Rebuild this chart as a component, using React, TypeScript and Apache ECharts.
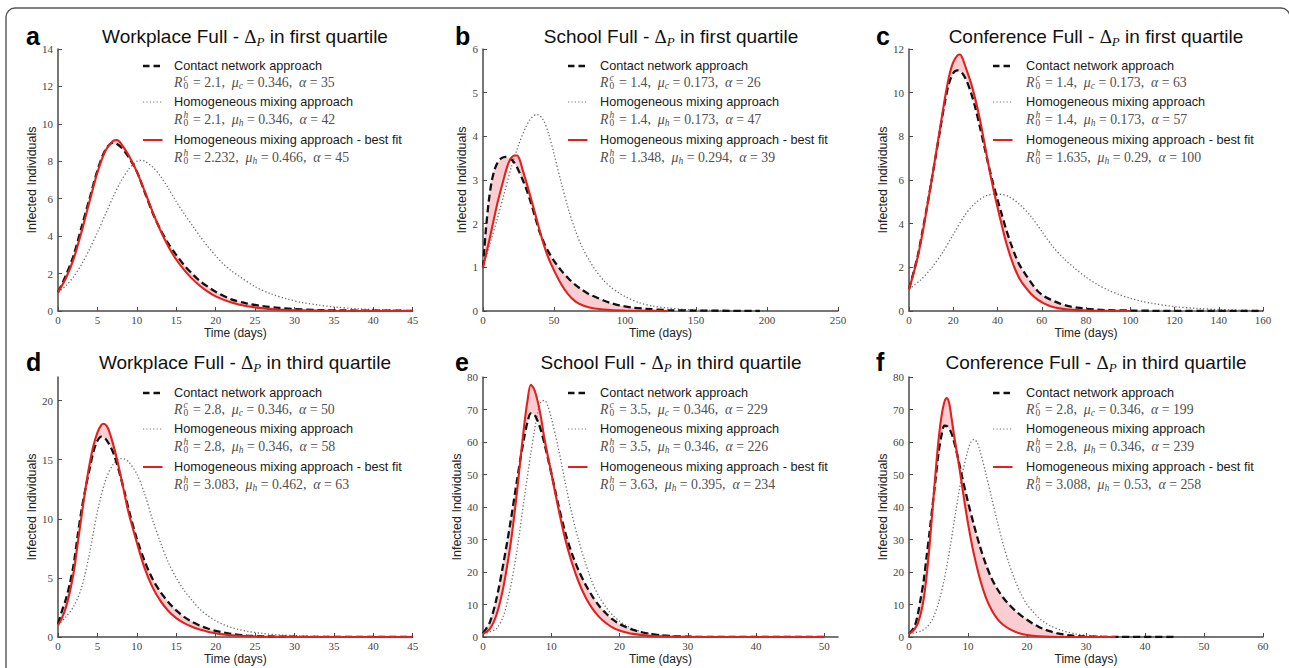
import React, { useEffect, useRef } from "react";
import * as echarts from "echarts";

// ---------- data ----------
const aContact = [[0,1],[1,1.9],[2,3.0],[3,4.5],[4,6.0],[5,7.5],[6,8.6],[7,9.0],[8,8.75],[9,8.2],[10,7.45],[11,6.35],[12,5.25],[13,4.35],[14,3.6],[15,3.0],[16,2.45],[17,2.0],[18,1.6],[19,1.3],[20,1.03],[22,0.62],[24,0.4],[26,0.26],[28,0.17],[30,0.1],[33,0.05],[36,0.03],[40,0.02],[45,0.01]];
const aFit = [[0,1],[1,1.75],[2,2.8],[3,4.25],[4,5.85],[5,7.4],[6,8.55],[7,9.1],[7.5,9.14],[8,8.95],[9,8.3],[10,7.45],[11,6.4],[12,5.3],[13,4.3],[14,3.45],[15,2.75],[16,2.2],[17,1.73],[18,1.35],[19,1.03],[20,0.78],[22,0.45],[24,0.25],[26,0.14],[28,0.07],[30,0.04],[35,0.01],[45,0]];
const aHomog = [[0,1],[1,1.35],[2,1.85],[3,2.5],[4,3.3],[5,4.2],[6,5.15],[7,6.1],[8,6.95],[9,7.6],[10,8.0],[10.5,8.05],[11,8.0],[12,7.7],[13,7.2],[14,6.55],[15,5.85],[16,5.2],[17,4.6],[18,4.0],[19,3.45],[20,2.95],[21,2.5],[22,2.15],[23,1.85],[25,1.3],[27,0.92],[29,0.65],[31,0.45],[33,0.32],[35,0.22],[38,0.12],[41,0.07],[45,0.03]];

const bContact = [[0,1],[1,1.45],[2,1.85],[4,2.5],[6,2.95],[8,3.22],[10,3.38],[13,3.5],[16,3.53],[19,3.5],[22,3.4],[25,3.22],[28,3.0],[31,2.75],[34,2.45],[37,2.12],[40,1.8],[43,1.56],[46,1.36],[50,1.15],[55,0.93],[60,0.75],[65,0.6],[70,0.48],[75,0.38],[80,0.31],[85,0.24],[90,0.18],[96,0.13],[105,0.08],[115,0.05],[130,0.02],[150,0.01],[195,0]];
const bFit = [[0,1],[5,1.7],[10,2.45],[14,2.95],[17,3.3],[19,3.46],[22,3.56],[24,3.56],[26,3.45],[28,3.22],[31,2.9],[34,2.55],[37,2.2],[40,1.83],[43,1.5],[46,1.22],[50,0.93],[55,0.62],[60,0.38],[65,0.22],[70,0.13],[75,0.08],[80,0.05],[90,0.02],[100,0.01],[130,0]];
const bHomog = [[0,1],[5,1.55],[10,2.1],[15,2.7],[20,3.3],[25,3.8],[30,4.2],[34,4.42],[38,4.5],[42,4.4],[46,4.08],[50,3.6],[55,2.95],[60,2.35],[65,1.85],[70,1.45],[75,1.15],[80,0.9],[85,0.7],[90,0.55],[95,0.43],[100,0.33],[110,0.19],[120,0.11],[130,0.07],[140,0.04],[150,0.02],[170,0.01],[200,0]];

const cContact = [[0,1],[2,1.75],[4,2.55],[6,3.6],[8,4.7],[10,5.85],[12,7.05],[14,8.25],[16,9.45],[18,10.4],[20,10.9],[22,11.02],[24,10.9],[26,10.55],[28,10.0],[30,9.3],[32,8.45],[34,7.55],[36,6.65],[38,5.85],[40,5.1],[42,4.4],[44,3.7],[46,3.1],[48,2.55],[50,2.1],[52,1.78],[55,1.33],[58,0.93],[61,0.68],[64,0.52],[68,0.35],[72,0.22],[76,0.15],[80,0.1],[85,0.06],[90,0.04],[100,0.02],[110,0.01],[160,0]];
const cFit = [[0,1],[2,1.7],[4,2.5],[6,3.5],[8,4.65],[10,5.85],[12,7.1],[14,8.35],[16,9.6],[18,10.7],[20,11.4],[22,11.72],[23,11.75],[24,11.62],[26,11.05],[28,10.45],[30,9.7],[32,8.8],[34,7.75],[36,6.65],[38,5.65],[40,4.75],[42,3.9],[44,3.1],[46,2.45],[48,1.9],[50,1.48],[52,1.17],[55,0.8],[58,0.53],[61,0.35],[64,0.22],[68,0.12],[72,0.07],[76,0.04],[80,0.02],[90,0.01],[100,0]];
const cHomog = [[0,1],[5,1.4],[10,1.95],[15,2.65],[20,3.5],[25,4.35],[30,4.95],[35,5.28],[40,5.36],[45,5.25],[50,4.88],[55,4.35],[60,3.65],[65,2.95],[70,2.4],[75,1.95],[80,1.55],[85,1.22],[90,0.96],[95,0.75],[100,0.58],[105,0.45],[110,0.35],[120,0.2],[130,0.12],[140,0.07],[150,0.04],[160,0.02]];

const dContact = [[0,1.1],[0.5,2.2],[1,3.2],[1.5,4.5],[2,6.2],[2.5,8.6],[3,10.8],[3.5,12.6],[4,14.2],[4.5,15.7],[5,16.6],[5.5,16.95],[6,16.8],[6.5,16.3],[7,15.6],[7.5,14.6],[8,13.4],[8.5,12.1],[9,10.7],[10,8.3],[11,6.4],[12,4.9],[13,3.8],[14,2.95],[15,2.25],[16,1.7],[17,1.28],[18,0.96],[19,0.72],[20,0.52],[21,0.37],[22,0.26],[24,0.12],[26,0.06],[28,0.03],[32,0.01],[45,0]];
const dFit = [[0,1],[0.5,1.6],[1,2.5],[1.5,3.8],[2,5.5],[2.5,7.9],[3,10.3],[3.5,12.6],[4,14.6],[4.5,16.2],[5,17.3],[5.5,17.95],[5.8,18.05],[6.2,17.85],[6.5,17.4],[7,16.3],[7.5,15.0],[8,13.5],[8.5,11.9],[9,10.4],[10,8.0],[11,5.8],[12,4.2],[13,3.05],[14,2.2],[15,1.6],[16,1.18],[17,0.87],[18,0.63],[19,0.45],[20,0.32],[21,0.22],[22,0.15],[24,0.07],[26,0.03],[30,0.01],[45,0]];
const dHomog = [[0,1],[1,1.7],[2,2.6],[3,4.2],[4,7.1],[5,10.6],[6,13.2],[7,14.6],[8,15.1],[8.5,15.05],[9,14.8],[10,13.8],[11,12.1],[12,9.9],[13,8.0],[14,6.3],[15,5.0],[16,3.95],[17,3.1],[18,2.35],[19,1.8],[20,1.38],[21,1.05],[22,0.8],[23,0.62],[24,0.48],[26,0.3],[28,0.18],[30,0.12],[33,0.06],[36,0.03],[40,0.01],[45,0]];

const eContact = [[0,1.1],[1,4.5],[2,12],[3,22.8],[4,35],[5,48.5],[5.5,55],[6,61],[6.5,66],[7,68.8],[7.5,68.5],[8,66.5],[8.5,63.5],[9,59.5],[10,50.5],[11,41],[12,32.5],[13,25.8],[14,20.5],[15,16.2],[16,12.6],[17,9.6],[18,7.3],[19,5.4],[20,4.0],[21,3.0],[22,2.2],[23,1.6],[24,1.15],[26,0.55],[28,0.25],[30,0.1],[35,0.02],[50,0]];
const eFit = [[0,1],[1,2.5],[2,7],[3,15.5],[4,28],[4.5,36],[5,45],[5.5,55],[6,64.5],[6.5,72.5],[7,77.6],[7.5,76.2],[8,72.6],[8.5,67.5],[9,61],[10,50.5],[11,40],[12,30.5],[13,23],[14,17],[15,12.3],[16,8.8],[17,6.2],[18,4.3],[19,2.9],[20,2.0],[21,1.4],[22,0.95],[24,0.42],[26,0.18],[28,0.08],[32,0.01],[50,0]];
const eHomog = [[0,1],[1,1.6],[2,2.6],[3,6.5],[4,15],[5,27],[6,42],[7,56.5],[7.5,63],[8,68.8],[8.5,72.3],[9,72.8],[9.5,71],[10,67.5],[11,58.5],[12,48],[13,38],[14,29.8],[15,22.8],[16,16.8],[17,12.4],[18,9.2],[19,6.7],[20,4.9],[21,3.5],[22,2.5],[23,1.8],[24,1.25],[26,0.6],[28,0.28],[30,0.12],[35,0.02],[50,0]];

const fContact = [[0,1],[0.5,2],[1,3.5],[1.5,7],[2,12],[2.5,17.5],[3,25],[3.5,32.5],[4,40.5],[4.5,48.5],[5,56.5],[5.5,62],[6,65],[6.5,64.8],[7,63.5],[7.5,61],[8,57.5],[8.5,53.5],[9,49.3],[10,41.5],[11,34.5],[12,28],[13,22.5],[14,18],[15,14.7],[16,12],[17,9.9],[18,8.1],[19,6.6],[20,5.3],[21,4.1],[22,3.1],[23,2.3],[24,1.7],[25,1.2],[27,0.55],[29,0.25],[32,0.08],[36,0.02],[45,0]];
const fFit = [[0,1],[0.5,1.6],[1,2.6],[1.5,4.2],[2,7.2],[2.5,11.8],[3,19],[3.5,28.5],[4,39.5],[4.5,50.5],[5,60.5],[5.5,67.8],[6,72.3],[6.4,73.5],[6.8,72],[7.2,67.5],[7.6,62.5],[8,58],[8.5,52.5],[9,46.5],[9.5,40.5],[10,35],[10.5,30],[11,25.5],[12,18],[13,12.3],[14,8.3],[15,5.5],[16,3.7],[17,2.5],[18,1.6],[19,1.0],[20,0.62],[22,0.25],[24,0.09],[27,0.02],[35,0]];
const fHomog = [[0,1],[2,1.8],[3,3],[4,5.5],[5,10.5],[6,18],[7,28],[8,39.5],[9,50],[10,57.5],[10.5,60],[11,60.8],[11.5,60],[12,57.5],[13,50.5],[14,42.8],[15,35.3],[16,28.3],[17,22.3],[18,17.3],[19,13.2],[20,10],[21,7.8],[22,5.9],[23,4.5],[24,3.4],[26,1.95],[28,1.05],[30,0.55],[33,0.2],[36,0.08],[40,0.02],[50,0]];

// tick labels
const aXTicks = [0,5,10,15,20,25,30,35,40,45];
const aYTicks = [0,2,4,6,8,10,12,14];
const bXTicks = [0,50,100,150,200,250];
const bYTicks = [0,1,2,3,4,5,6];
const cXTicks = [0,20,40,60,80,100,120,140,160];
const cYTicks = [0,2,4,6,8,10,12];
const dXTicks = [0,5,10,15,20,25,30,35,40,45];
const dYTicks = [0,5,10,15,20];
const eXTicks = [0,10,20,30,40,50];
const eYTicks = [0,10,20,30,40,50,60,70,80];
const fXTicks = [0,10,20,30,40,50,60];
const fYTicks = [0,10,20,30,40,50,60,70,80];

// axis ranges
const xMaxes = [45,250,160,45,52,60];
const yMaxes = [14,6,12,22,80,80];

// texts
const letters = ["a","b","c","d","e","f"];
const settings = ["Workplace","School","Conference","Workplace","School","Conference"];
const quartiles = ["first","first","first","third","third","third"];
const legendLabels = ["Contact network approach","Homogeneous mixing approach","Homogeneous mixing approach - best fit"];
// [R0, mu, alpha] for contact, homogeneous, best fit
const aParams = [["2.1","0.346","35"],["2.1","0.346","42"],["2.232","0.466","45"]];
const bParams = [["1.4","0.173","26"],["1.4","0.173","47"],["1.348","0.294","39"]];
const cParams = [["1.4","0.173","63"],["1.4","0.173","57"],["1.635","0.29","100"]];
const dParams = [["2.8","0.346","50"],["2.8","0.346","58"],["3.083","0.462","63"]];
const eParams = [["3.5","0.346","229"],["3.5","0.346","226"],["3.63","0.395","234"]];
const fParams = [["2.8","0.346","199"],["2.8","0.346","239"],["3.088","0.53","258"]];

const contacts = [aContact,bContact,cContact,dContact,eContact,fContact];
const fits = [aFit,bFit,cFit,dFit,eFit,fFit];
const homogs = [aHomog,bHomog,cHomog,dHomog,eHomog,fHomog];
const xTicksAll = [aXTicks,bXTicks,cXTicks,dXTicks,eXTicks,fXTicks];
const yTicksAll = [aYTicks,bYTicks,cYTicks,dYTicks,eYTicks,fYTicks];
const paramsAll = [aParams,bParams,cParams,dParams,eParams,fParams];

// ---------- layout ----------
const W = 1289, H = 668;
const SANS = '"Liberation Sans", Arial, Helvetica, sans-serif';
const SERIF = '"Liberation Serif", "Times New Roman", serif';
const cols = [
  { axisX: 58, right: 412.7, sym: 143, text: 174, letterX: 26, titleCx: 245, nameGap: 20 },
  { axisX: 483, right: 838, sym: 568, text: 600, letterX: 455, titleCx: 671, nameGap: 14 },
  { axisX: 909, right: 1263, sym: 993, text: 1026, letterX: 876, titleCx: 1096, nameGap: 20 },
];
const rows = [
  { top: 49, bottom: 311, titleY: 36, legY: 66 },
  { top: 377, bottom: 637, titleY: 362, legY: 393 },
];
const legOffsets = [0, 16, 36, 53, 74, 91];
const AXIS_COLOR = "#4a4a4a";
const RED = "#e3211c";
const PINK = "#f9cdd1";
const PARAM_COLOR = "#505050";
const PFS = 13.8;

function buildOption() {
  const grid: any[] = [], xAxis: any[] = [], yAxis: any[] = [], series: any[] = [], graphic: any[] = [];

  graphic.push({
    type: "rect", shape: { x: 6, y: 8, width: 1284, height: 720, r: 9 },
    style: { fill: "none", stroke: "#555", lineWidth: 1.4 }, silent: true, z: 0,
  });

  for (let i = 0; i < 6; i++) {
    const col = cols[i % 3], row = rows[Math.floor(i / 3)];
    grid.push({ left: col.axisX, top: row.top, width: col.right - col.axisX, height: row.bottom - row.top, outerBoundsMode: "none" });
    const xt = xTicksAll[i], yt = yTicksAll[i];
    xAxis.push({
      type: "value", gridIndex: i, min: 0, max: xMaxes[i], interval: xt[1] - xt[0],
      axisLine: { show: true, onZero: false, lineStyle: { color: AXIS_COLOR, width: 1.5 } },
      axisTick: { show: true, inside: true, length: 4, customValues: xt, lineStyle: { color: AXIS_COLOR, width: 1 } },
      axisLabel: { customValues: xt, margin: 3, fontFamily: SERIF, fontSize: 11, color: "#444" },
      splitLine: { show: false },
      name: "Time (days)", nameLocation: "middle", nameGap: 16,
      nameTextStyle: { fontFamily: SANS, fontSize: 12, color: "#222" },
    });
    yAxis.push({
      type: "value", gridIndex: i, min: 0, max: yMaxes[i], interval: yt[1] - yt[0],
      axisLine: { show: true, onZero: false, lineStyle: { color: AXIS_COLOR, width: 1.5 } },
      axisTick: { show: true, inside: true, length: 4, customValues: yt, lineStyle: { color: AXIS_COLOR, width: 1 } },
      axisLabel: { customValues: yt, margin: 5, fontFamily: SERIF, fontSize: 11, color: "#444" },
      splitLine: { show: false },
      name: "Infected Individuals", nameLocation: "middle", nameGap: col.nameGap,
      nameTextStyle: { fontFamily: SANS, fontSize: 12.5, color: "#222" },
    });

    const contact = contacts[i], fit = fits[i], homog = homogs[i];
    series.push({
      type: "custom", xAxisIndex: i, yAxisIndex: i, data: [[0, 0]], silent: true, z: 1, clip: true,
      renderItem: (_p: any, api: any) => {
        const pts: number[][] = [];
        for (const p of contact) pts.push(api.coord(p));
        for (let k = fit.length - 1; k >= 0; k--) pts.push(api.coord(fit[k]));
        return { type: "polygon", shape: { points: pts }, style: { fill: PINK, stroke: null } };
      },
    });
    const common = { type: "line", xAxisIndex: i, yAxisIndex: i, showSymbol: false, symbol: "none", smooth: 0.3, silent: true, clip: true };
    series.push({ ...common, name: `homog${i}`, data: homog, z: 2, lineStyle: { color: "#6e6e6e", width: 1.3, type: [1.3, 2.2] } });
    series.push({ ...common, name: `contact${i}`, data: contact, z: 3, lineStyle: { color: "#111", width: 2.3, type: [7.2, 3.8] } });
    series.push({ ...common, name: `fit${i}`, data: fit, z: 4, lineStyle: { color: RED, width: 2.1 } });

    // letter
    graphic.push({
      type: "text", x: col.letterX, y: row.titleY, silent: true,
      style: { text: letters[i], font: `bold 25px ${SANS}`, fill: "#000", align: "left", verticalAlign: "middle" },
    });
    // title
    graphic.push({
      type: "text", x: col.titleCx, y: row.titleY, silent: true,
      style: {
        text: `{t|${settings[i]} Full - }{d|Δ}{p|P}{t| in ${quartiles[i]} quartile}`,
        align: "center", verticalAlign: "middle",
        rich: {
          t: { fontFamily: SANS, fontSize: 19, fill: "#111", lineHeight: 24 },
          d: { fontFamily: SERIF, fontSize: 19, fill: "#111", lineHeight: 24 },
          p: { fontFamily: SERIF, fontStyle: "italic", fontSize: 13, fill: "#111", lineHeight: 12, verticalAlign: "bottom" },
        },
      },
    });

    // legend
    const symStyles = [
      { stroke: "#111", lineWidth: 2.3, lineDash: [6.5, 4] },
      { stroke: "#777", lineWidth: 1.2, lineDash: [1.2, 2.2] },
      { stroke: RED, lineWidth: 2 },
    ];
    const sups = ["c", "h", "h"];
    for (let k = 0; k < 3; k++) {
      const yl = row.legY + legOffsets[k * 2];
      const yp = row.legY + legOffsets[k * 2 + 1];
      graphic.push({ type: "line", silent: true, shape: { x1: col.sym, y1: yl, x2: col.sym + 19.5, y2: yl }, style: symStyles[k] });
      graphic.push({
        type: "text", x: col.text, y: yl, silent: true,
        style: { text: legendLabels[k], fontFamily: SANS, fontSize: 12.7, fill: "#1a1a1a", align: "left", verticalAlign: "middle" },
      });
      const [r0, mu, al] = paramsAll[i][k];
      graphic.push({ type: "text", x: col.text, y: yp, silent: true,
        style: { text: "R", fontFamily: SERIF, fontStyle: "italic", fontSize: PFS, fill: PARAM_COLOR, align: "left", verticalAlign: "middle" } });
      graphic.push({ type: "text", x: col.text + 9.5, y: yp - 4.5, silent: true,
        style: { text: sups[k], fontFamily: SERIF, fontStyle: "italic", fontSize: 9.5, fill: PARAM_COLOR, align: "left", verticalAlign: "middle" } });
      graphic.push({ type: "text", x: col.text + 9.5, y: yp + 4, silent: true,
        style: { text: "0", fontFamily: SERIF, fontSize: 9.5, fill: PARAM_COLOR, align: "left", verticalAlign: "middle" } });
      graphic.push({
        type: "text", x: col.text + 19, y: yp, silent: true,
        style: {
          text: `{n|= ${r0},  }{i|μ}{s|${sups[k]}}{n| = ${mu},  }{i|α}{n| = ${al}}`,
          align: "left", verticalAlign: "middle",
          rich: {
            n: { fontFamily: SERIF, fontSize: PFS, fill: PARAM_COLOR, lineHeight: 17 },
            i: { fontFamily: SERIF, fontStyle: "italic", fontSize: PFS, fill: PARAM_COLOR, lineHeight: 17 },
            s: { fontFamily: SERIF, fontStyle: "italic", fontSize: 9.5, fill: PARAM_COLOR, lineHeight: 10, verticalAlign: "bottom" },
          },
        },
      });
    }
  }

  return { animation: false, backgroundColor: "#ffffff", grid, xAxis, yAxis, series, graphic };
}

export default function App() {
  const ref = useRef<HTMLDivElement>(null);
  useEffect(() => {
    if (!ref.current) return;
    const chart = echarts.init(ref.current, null, { renderer: "svg", width: W, height: H });
    chart.setOption(buildOption() as any);
    return () => chart.dispose();
  }, []);
  return <div ref={ref} style={{ position: "absolute", left: 0, top: 0, width: W, height: H }} />;
}
